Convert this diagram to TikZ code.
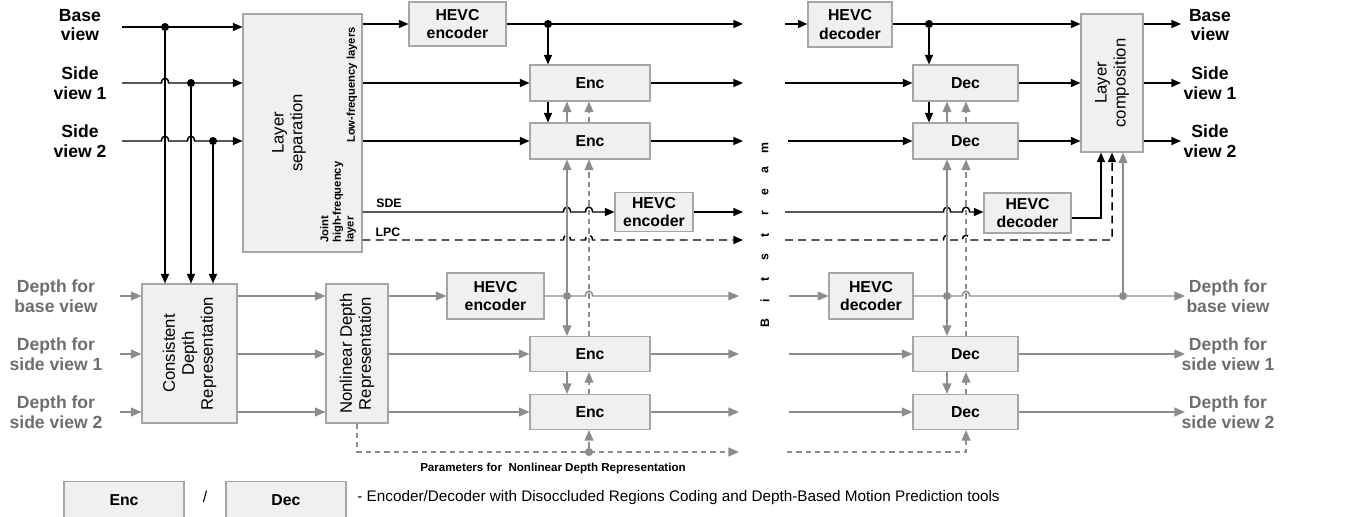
\documentclass[tikz,border=0pt]{standalone}
\usepackage{fontspec}
\setmainfont{Liberation Sans}
\usetikzlibrary{arrows.meta,positioning}

\definecolor{boxfill}{HTML}{F0F0F0}
\definecolor{boxedge}{HTML}{A6A6A6}
\definecolor{flowgray}{HTML}{8C8C8C}
\definecolor{labelgray}{HTML}{6E6E6E}

% a small hop of a horizontal line over a vertical one
\newcommand{\jumpat}[2]{-- (#1-3.5,#2) .. controls (#1-3.5,#2-6.5) and (#1+3.5,#2-6.5) .. (#1+3.5,#2)}

\tikzset{
  blk/.style={draw=boxedge, fill=boxfill, line width=0.6pt, inner sep=0pt,
    font=\bfseries\fontsize{9}{10.5}\selectfont, align=center},
  rottext/.style={rotate=90, align=center, font=\fontsize{9.5}{10.8}\selectfont},
  viewlbl/.style={align=center, font=\bfseries\fontsize{10}{11.3}\selectfont},
  depthlbl/.style={viewlbl, text=labelgray},
  smalllbl/.style={font=\bfseries\fontsize{6.4}{7.2}\selectfont},
  sig/.style={line width=0.85pt, -{Triangle[length=5.5pt,width=4.6pt]}},
  dsig/.style={sig, dash pattern=on 4.5pt off 3pt},
  gsig/.style={sig, draw=flowgray, line width=0.8pt, -{Triangle[length=6pt,width=5pt,fill=flowgray]}},
  gdsig/.style={gsig, dash pattern=on 3pt off 2.3pt},
  dot/.style={circle, fill, inner sep=0pt, minimum size=4.6pt},
  gdot/.style={dot, fill=flowgray}
}

\begin{document}
\begin{tikzpicture}[x=0.02cm, y=-0.02cm]
\useasboundingbox (0,0) rectangle (1357,517);

% ---------- bitstream ----------
\foreach \ch [count=\k from 0] in {B,i,t,s,t,r,e,a,m}
  \node[rotate=90, smalllbl, font=\bfseries\fontsize{7}{8}\selectfont] (bit\k) at (765,323-21.9*\k) {\ch};

% ---------- encoder side, texture ----------
\node[viewlbl] (inBase) at (80,25) {Base\\view};
\node[viewlbl] (inSide1) at (80,83) {Side\\view 1};
\node[viewlbl] (inSide2) at (80,141) {Side\\view 2};

\node[blk, minimum width=2.38cm, minimum height=4.76cm] (laysep) at (302.5,133) {};
\node[rottext] (laysepTxt) at (289,133) {Layer\\separation};
\node[rotate=90, smalllbl] (lowTxt) at (352,85) {Low-frequency layers};
\node[rotate=90, smalllbl, anchor=west, align=left] (jointTxt) at (338,249) {Joint\\high-frequency\\layer};

\node[blk, minimum width=1.94cm, minimum height=0.88cm] (hevcA) at (457.5,24) {HEVC\\encoder};
\node[blk, minimum width=2.4cm, minimum height=0.72cm] (encA) at (590,83) {Enc};
\node[blk, minimum width=2.4cm, minimum height=0.72cm] (encB) at (590,141) {Enc};
\node[blk, minimum width=1.56cm, minimum height=0.78cm] (hevcB) at (654,212) {HEVC\\encoder};

\coordinate (sBase) at (122,27);
\coordinate (sSide1) at (122,83);
\coordinate (sSide2) at (122,141);
\node[dot] (tBase) at (165,27) {};
\node[dot] (tSide1) at (191,83) {};
\node[dot] (tSide2) at (213,141) {};

\draw[sig] (sBase) -- (laysep.west |- sBase);
\draw[sig] (sSide1) \jumpat{165}{83} -- (laysep.west |- sSide1);
\draw[sig] (sSide2) \jumpat{165}{141} \jumpat{191}{141} -- (laysep.west |- sSide2);

\draw[sig] (laysep.east |- hevcA.west) -- (hevcA.west);
\draw[sig] (hevcA.east) -- (743,24);
\node[dot] (tapA) at (548,24) {};
\draw[sig] (tapA) -- (tapA |- encA.north);
\draw[sig] (laysep.east |- encA.west) -- (encA.west);
\draw[sig] (encA.east) -- (743,83);
\draw[sig] (laysep.east |- encB.west) -- (encB.west);
\draw[sig] (encB.east) -- (743,141);
\draw[sig] (encA.south -| tapA) -- (encB.north -| tapA);

\node[smalllbl, font=\bfseries\fontsize{7}{8}\selectfont] (sdeTxt) at (389,203) {SDE};
\node[smalllbl, font=\bfseries\fontsize{7}{8}\selectfont] (lpcTxt) at (388,232) {LPC};
\draw[sig] (laysep.east |- hevcB.west) \jumpat{567}{212} \jumpat{589}{212} -- (hevcB.west);
\draw[sig] (hevcB.east) -- (743,212);
\draw[dsig] (laysep.east |- 0,240) \jumpat{567}{240} \jumpat{589}{240} -- (743,240);

% ---------- encoder side, depth ----------
\node[depthlbl] (inDBase) at (56,296) {Depth for\\base view};
\node[depthlbl] (inDSide1) at (56,354) {Depth for\\side view 1};
\node[depthlbl] (inDSide2) at (56,412) {Depth for\\side view 2};

\node[blk, minimum width=1.9cm, minimum height=2.78cm] (consist) at (189.5,353.5) {};
\node[rottext] (consistTxt) at (consist) {Consistent\\Depth\\Representation};
\node[blk, minimum width=1.24cm, minimum height=2.78cm] (nonlin) at (357,353.5) {};
\node[rottext] (nonlinTxt) at (nonlin) {Nonlinear Depth\\Representation};

\node[blk, minimum width=1.94cm, minimum height=0.92cm] (hevcC) at (495.5,296) {HEVC\\encoder};
\node[blk, minimum width=2.4cm, minimum height=0.7cm] (encC) at (590,354) {Enc};
\node[blk, minimum width=2.4cm, minimum height=0.7cm] (encD) at (590,412) {Enc};

\draw[sig] (tBase) -- (tBase |- consist.north);
\draw[sig] (tSide1) -- (tSide1 |- consist.north);
\draw[sig] (tSide2) -- (tSide2 |- consist.north);

\draw[gsig] (120,296) -- (consist.west |- 0,296);
\draw[gsig] (120,354) -- (consist.west |- 0,354);
\draw[gsig] (120,412) -- (consist.west |- 0,412);
\draw[gsig] (consist.east |- 0,296) -- (nonlin.west |- 0,296);
\draw[gsig] (consist.east |- 0,354) -- (nonlin.west |- 0,354);
\draw[gsig] (consist.east |- 0,412) -- (nonlin.west |- 0,412);
\draw[gsig] (nonlin.east |- hevcC.west) -- (hevcC.west);
\draw[gsig] (nonlin.east |- encC.west) -- (encC.west);
\draw[gsig] (nonlin.east |- encD.west) -- (encD.west);
\draw[gsig] (hevcC.east) \jumpat{589}{296} -- (739,296);
\draw[gsig] (encC.east) -- (739,354);
\draw[gsig] (encD.east) -- (739,412);

\node[gdot] (tapC) at (567,296) {};
\draw[gsig] (tapC) -- (tapC |- encB.south);
\draw[gsig] (encB.north -| tapC) -- (encA.south -| tapC);
\draw[gsig] (tapC) -- (tapC |- encC.north);
\draw[gsig] (encC.south -| tapC) -- (encD.north -| tapC);

\draw[gdsig] (nonlin.south) -- (nonlin.south |- 0,452) -- (739,452);
\node[gdot] (tapP) at (589,452) {};
\draw[gdsig] (tapP) -- (tapP |- encD.south);
\draw[gdsig] (encD.north -| tapP) -- (encC.south -| tapP);
\draw[gdsig] (encC.north -| tapP) -- (encB.south -| tapP);
\draw[gdsig] (encB.north -| tapP) -- (encA.south -| tapP);
\node[smalllbl, font=\bfseries\fontsize{6.6}{7.4}\selectfont] (paramTxt) at (553,469) {Parameters for\ \ Nonlinear Depth Representation};

% ---------- decoder side, texture ----------
\node[blk, minimum width=1.68cm, minimum height=0.9cm] (hevcD) at (850,24.5) {HEVC\\decoder};
\node[blk, minimum width=2.1cm, minimum height=0.72cm] (decA) at (965.5,83) {Dec};
\node[blk, minimum width=2.1cm, minimum height=0.72cm] (decB) at (965.5,141) {Dec};
\node[blk, minimum width=1.74cm, minimum height=0.8cm] (hevcE) at (1027.5,213) {HEVC\\decoder};
\node[blk, minimum width=1.24cm, minimum height=2.76cm] (laycomp) at (1112,83) {};
\node[rottext] (laycompTxt) at (laycomp) {Layer\\composition};

\draw[sig] (785,24) -- (hevcD.west |- 0,24);
\draw[sig] (hevcD.east |- 0,24) -- (laycomp.west |- 0,24);
\node[dot] (tapD) at (929,24) {};
\draw[sig] (tapD) -- (tapD |- decA.north);
\draw[sig] (785,83) -- (decA.west);
\draw[sig] (decA.east) -- (laycomp.west |- decA.east);
\draw[sig] (788,141) -- (decB.west);
\draw[sig] (decB.east) -- (laycomp.west |- decB.east);
\draw[sig] (decA.south -| tapD) -- (decB.north -| tapD);

\draw[sig] (785,212) \jumpat{947}{212} \jumpat{966}{212} -- (hevcE.west |- 0,212);
\draw[sig] (hevcE.east |- 0,218) -- (1101,218) -- (laycomp.south -| 1101,0);
\draw[dsig] (785,240) \jumpat{947}{240} \jumpat{966}{240} -- (1112,240) -- (laycomp.south);

\node[viewlbl] (outBase) at (1210,25) {Base\\view};
\node[viewlbl] (outSide1) at (1210,83) {Side\\view 1};
\node[viewlbl] (outSide2) at (1210,141) {Side\\view 2};
\draw[sig] (laycomp.east |- 0,24) -- (1181,24);
\draw[sig] (laycomp.east |- 0,83) -- (1181,83);
\draw[sig] (laycomp.east |- 0,141) -- (1181,141);

% ---------- decoder side, depth ----------
\node[blk, minimum width=1.68cm, minimum height=0.92cm] (hevcF) at (871,296) {HEVC\\decoder};
\node[blk, minimum width=2.1cm, minimum height=0.7cm] (decC) at (965.5,354) {Dec};
\node[blk, minimum width=2.1cm, minimum height=0.7cm] (decD) at (965.5,412) {Dec};

\draw[gsig] (789,296) -- (hevcF.west);
\draw[gsig] (hevcF.east) \jumpat{966}{296} -- (1185,296);
\draw[gsig] (789,354) -- (decC.west);
\draw[gsig] (decC.east) -- (1185,354);
\draw[gsig] (789,412) -- (decD.west);
\draw[gsig] (decD.east) -- (1185,412);

\node[gdot] (tapF) at (947,296) {};
\node[gdot] (tapG) at (1123,296) {};
\draw[gsig] (tapF) -- (tapF |- decB.south);
\draw[gsig] (decB.north -| tapF) -- (decA.south -| tapF);
\draw[gsig] (tapF) -- (tapF |- decC.north);
\draw[gsig] (decC.south -| tapF) -- (decD.north -| tapF);
\draw[gsig] (tapG) -- (laycomp.south -| tapG);

\coordinate (pDec) at (966,452);
\draw[gdsig] (787,452) -- (pDec) -- (pDec |- decD.south);
\draw[gdsig] (decD.north -| pDec) -- (decC.south -| pDec);
\draw[gdsig] (decC.north -| pDec) -- (decB.south -| pDec);
\draw[gdsig] (decB.north -| pDec) -- (decA.south -| pDec);

\node[depthlbl] (outDBase) at (1228,296) {Depth for\\base view};
\node[depthlbl] (outDSide1) at (1228,354) {Depth for\\side view 1};
\node[depthlbl] (outDSide2) at (1228,412) {Depth for\\side view 2};

% ---------- legend ----------
\node[blk, minimum width=2.4cm, minimum height=0.74cm] (legEnc) at (124,500) {Enc};
\node[font=\fontsize{9}{10}\selectfont] (legSlash) at (205,497) {/};
\node[blk, minimum width=2.4cm, minimum height=0.74cm] (legDec) at (286,500) {Dec};
\node[anchor=west, font=\fontsize{8.7}{10}\selectfont, inner sep=0pt] (legTxt) at (357,498)
  {- Encoder/Decoder with Disoccluded Regions Coding and Depth-Based Motion Prediction tools};
\end{tikzpicture}
\end{document}
